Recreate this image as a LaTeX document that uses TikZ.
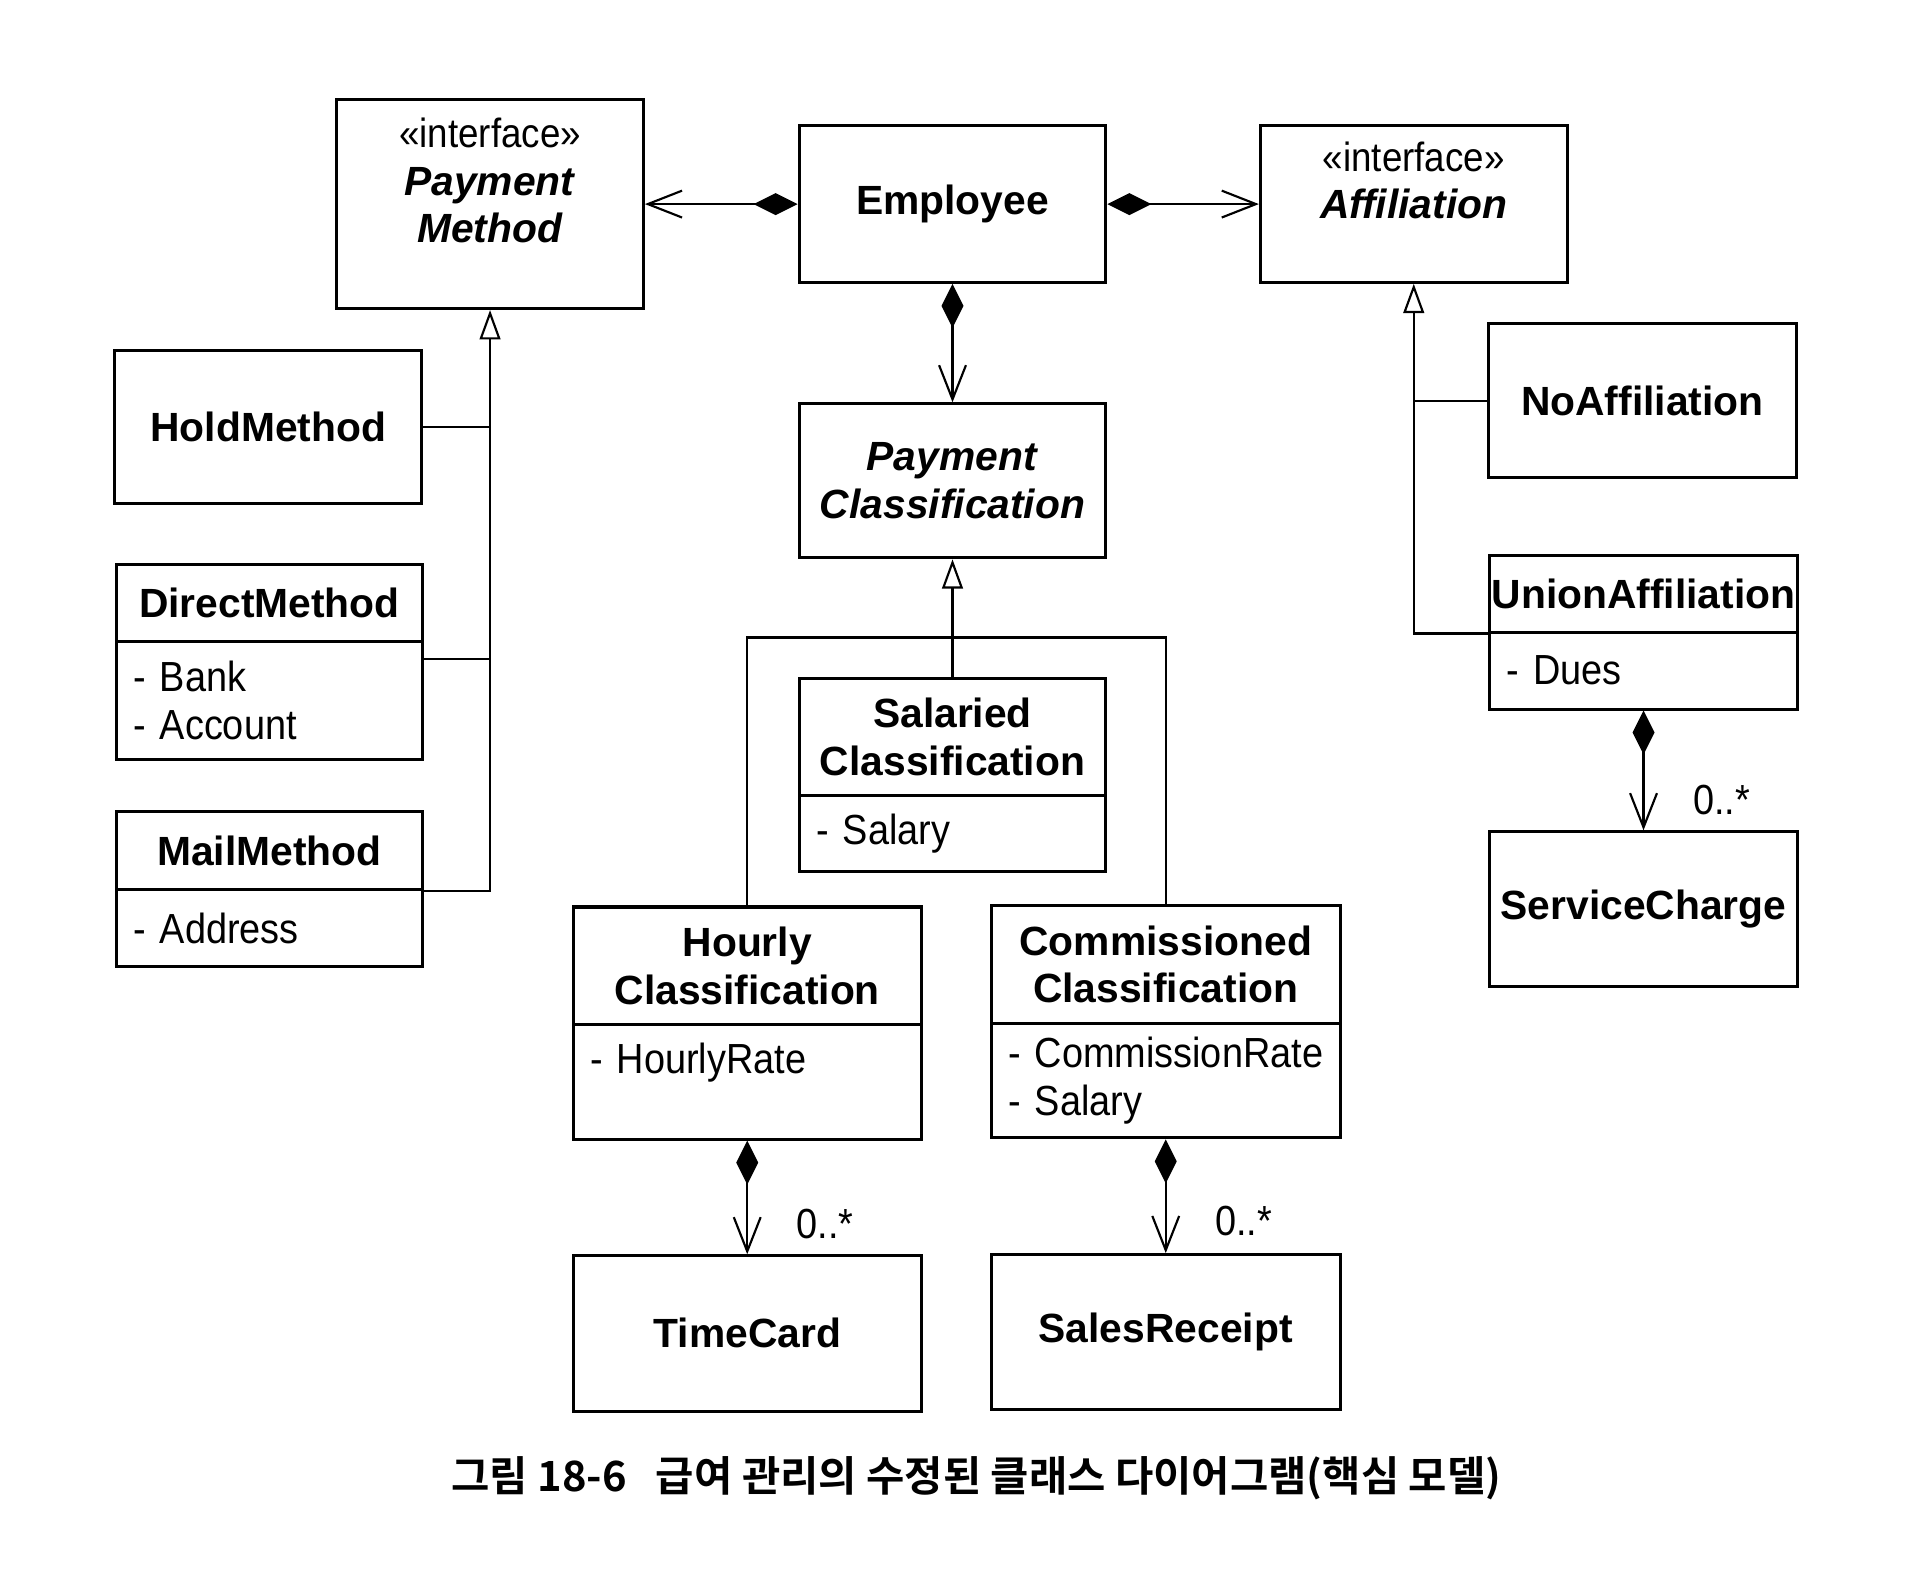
\documentclass[tikz,border=0pt]{standalone}
\usepackage{fontspec}
\setmainfont{Liberation Sans}[UprightFeatures={FakeStretch=0.9}]
\newfontfamily\krfont{Noto Sans CJK KR}[BoldFont={* Bold}]
\usetikzlibrary{positioning,arrows.meta}

\begin{document}
\begin{tikzpicture}[node distance=0.36cm,
    every node/.style={font=\fontsize{9.8}{11.1}\selectfont},
    cls/.style={draw,line width=0.7pt,inner sep=0pt,align=center,minimum width=2.51cm,font=\fontsize{9.5}{11.1}\selectfont\bfseries},
    attr/.style={draw,line width=0.7pt,inner xsep=0.14cm,inner ysep=0pt,align=left},
    link/.style={line width=0.5pt},
    comp/.style={link,{Diamond[length=0.36cm,width=0.18cm]}-{Straight Barb[length=0.28cm,width=0.22cm]}},
    gen/.style={link,-{Triangle[open,length=0.24cm,width=0.17cm]}},
    mult/.style={anchor=west,xshift=0.28cm}]
    \useasboundingbox (0,0) rectangle (15.68,-12.86);
    % top row
    \node[cls,minimum height=1.28cm] (emp) at (7.795,-1.67) {Employee};
    \node[cls,minimum height=1.71cm,left=1.25cm of emp] (pm) {{\mdseries «interface»}\\\textit{Payment}\\\textit{Method}\\~};
    \node[cls,minimum height=1.28cm,right=1.24cm of emp] (aff) {{\mdseries «interface»}\\\textit{Affiliation}\\~};
    \node[cls,minimum height=1.26cm,below=0.97cm of emp] (pc) {\textit{Payment}\\\textit{Classification}};
    % payment methods
    \node[cls,minimum height=1.25cm] (hold) at (2.195,-3.495) {HoldMethod};
    \node[cls,minimum height=0.63cm,anchor=north] (directname) at (2.205,-4.61) {DirectMethod};
    \node[attr,text width=2.23cm,minimum height=0.96cm,below=-0.7pt of directname] (directattr) {- Bank\\- Account};
    \node[cls,minimum height=0.64cm,anchor=north] (mailname) at (2.205,-6.63) {MailMethod};
    \node[attr,text width=2.23cm,minimum height=0.63cm,below=-0.7pt of mailname] (mailattr) {- Address};
    % classifications
    \node[cls,minimum height=0.96cm,below=0.96cm of pc] (salname) {Salaried\\Classification};
    \node[attr,text width=2.23cm,minimum height=0.62cm,below=-0.7pt of salname] (salattr) {- Salary};
    \node[cls,minimum width=2.85cm,minimum height=0.96cm,anchor=north] (hourlyname) at (6.115,-7.41) {Hourly\\Classification};
    \node[attr,text width=2.57cm,minimum height=0.94cm,below=-0.7pt of hourlyname] (hourlyattr) {- HourlyRate\\~};
    \node[cls,minimum width=2.86cm,minimum height=0.96cm,anchor=north] (commname) at (9.54,-7.40) {Commissioned\\Classification};
    \node[attr,text width=2.58cm,minimum height=0.94cm,below=-0.7pt of commname] (commattr) {- CommissionRate\\- Salary};
    \node[cls,minimum width=2.85cm,minimum height=1.27cm,below=0.93cm of hourlyattr] (timecard) {TimeCard};
    \node[cls,minimum width=2.86cm,minimum height=1.27cm,below=0.93cm of commattr] (sales) {SalesReceipt};
    % affiliations
    \node[cls,minimum width=2.52cm,minimum height=1.26cm] (noaff) at (13.44,-3.28) {NoAffiliation};
    \node[cls,minimum width=2.52cm,minimum height=0.63cm,anchor=north] (unionname) at (13.45,-4.53) {UnionAffiliation};
    \node[attr,text width=2.24cm,minimum height=0.63cm,below=-0.7pt of unionname] (unionattr) {- Dues};
    \node[cls,minimum width=2.52cm,minimum height=1.27cm,below=0.98cm of unionattr] (svc) {ServiceCharge};
    % caption
    \node[font=\krfont\bfseries\fontsize{9.7}{11}\selectfont] (caption) at (7.99,-12.10) {그림 18-6\hspace{0.7em}급여 관리의 수정된 클래스 다이어그램(핵심 모델)};

    % compositions
    \draw[comp] (emp.west) -- (pm.east);
    \draw[comp] (emp.east) -- (aff.west);
    \draw[comp] (emp.south) -- (pc.north);
    \draw[comp] (hourlyattr.south) -- node[mult,pos=0.73] {0..*} (timecard.north);
    \draw[comp] (commattr.south) -- node[mult,pos=0.72] {0..*} (sales.north);
    \draw[comp] (unionattr.south) -- node[mult,pos=0.75] {0..*} (svc.north);
    % generalizations
    \draw[link] (hold.east) -- (hold.east -| pm.south);
    \draw[link] ([yshift=-0.13cm]directname.south east) -- ([yshift=-0.13cm]directname.south east -| pm.south);
    \draw[gen] (mailname.south east) -| (pm.south);
    \coordinate[below=0.64cm of pc.south] (pcjoin);
    \draw[gen] (salname.north) -- (pc.south);
    \draw[link] (hourlyname.north) |- (pcjoin) -| (commname.north);
    \draw[link] (noaff.west) -- (noaff.west -| aff.south);
    \draw[gen] (unionname.south west) -| (aff.south);
\end{tikzpicture}
\end{document}
